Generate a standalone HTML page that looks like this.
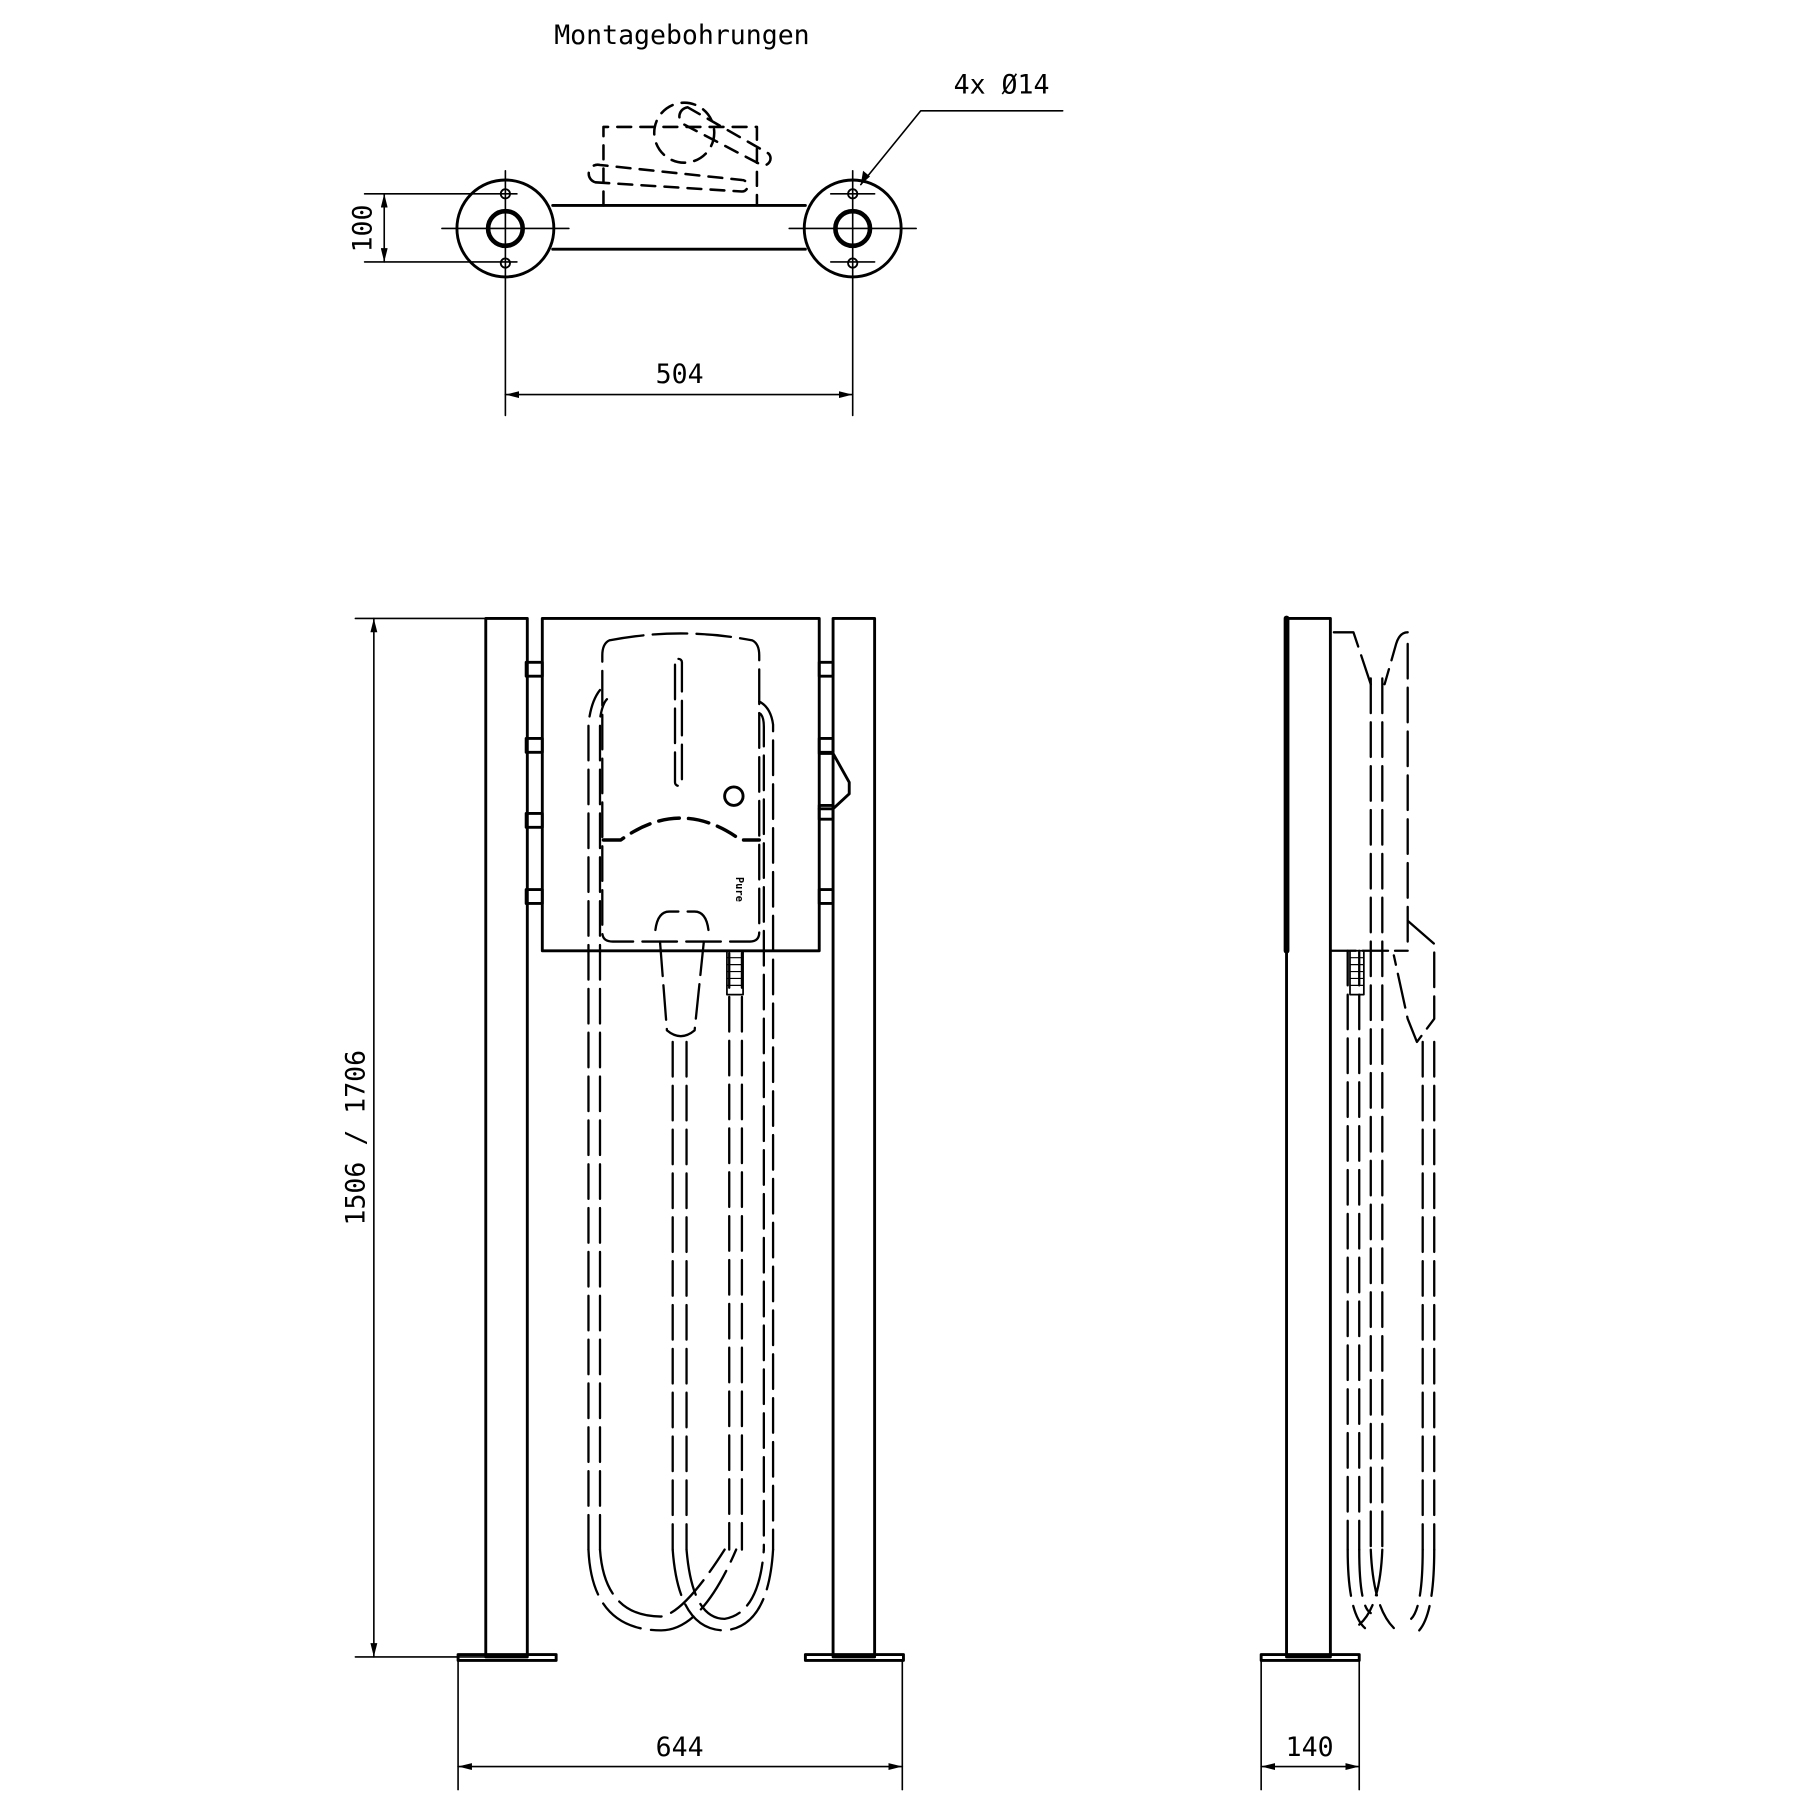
<!DOCTYPE html>
<html><head><meta charset="utf-8"><style>html,body{margin:0;padding:0;background:#fff}svg{display:block}</style></head>
<body>
<svg width="1800" height="1800" viewBox="0 0 1560 1560" xmlns="http://www.w3.org/2000/svg" font-family="'DejaVu Sans Mono','Liberation Mono',monospace" fill="none" stroke="#000" stroke-linecap="round" stroke-linejoin="round">
<defs>
<marker id="a" viewBox="0 0 12 6" refX="12" refY="3" markerWidth="12" markerHeight="6" orient="auto-start-reverse" markerUnits="userSpaceOnUse"><path d="M0,0 L12,3 L0,6z" fill="#000" stroke="none"/></marker>
</defs>
<g transform="translate(-2,-2)">
<!-- TOP VIEW -->
<text x="593" y="40" font-size="23" fill="#000" stroke="none" text-anchor="middle">Montagebohrungen</text>
<g stroke-width="1.4">
<line x1="385" y1="200" x2="495" y2="200"/><line x1="686" y1="200" x2="796" y2="200"/>
<line x1="440" y1="150" x2="440" y2="362"/><line x1="741" y1="150" x2="741" y2="362"/>
<line x1="318" y1="170" x2="450" y2="170"/><line x1="318" y1="229" x2="450" y2="229"/>
<line x1="722" y1="170" x2="760" y2="170"/><line x1="722" y1="229" x2="760" y2="229"/>
<line x1="335" y1="170" x2="335" y2="229" marker-start="url(#a)" marker-end="url(#a)"/>
<line x1="440" y1="344" x2="741" y2="344" marker-start="url(#a)" marker-end="url(#a)"/>
<polyline points="923,98 800,98 748,162"/>
</g>
<path d="M748,162 l2,-12 l6,5z" fill="#000" stroke="none"/>
<text x="316" y="200" font-size="23" fill="#000" stroke="none" text-anchor="middle" transform="rotate(-90 316 200)" dy="8">100</text>
<text x="591" y="334" font-size="23" fill="#000" stroke="none" text-anchor="middle">504</text>
<text x="870" y="83" font-size="23" fill="#000" stroke="none" text-anchor="middle">4x Ø14</text>
<g stroke-width="2.5">
<circle cx="440" cy="200" r="42"/><circle cx="741" cy="200" r="42"/>
<line x1="481" y1="180" x2="700" y2="180"/><line x1="481" y1="218" x2="700" y2="218"/>
</g>
<g stroke-width="4"><circle cx="440" cy="200" r="15"/><circle cx="741" cy="200" r="15"/></g>
<g stroke-width="1.6"><circle cx="440" cy="170" r="4"/><circle cx="440" cy="230" r="4"/><circle cx="741" cy="170" r="4"/><circle cx="741" cy="230" r="4"/></g>
<g stroke-width="2.2" stroke-dasharray="12,8">
<polyline points="525,180 525,112 658,112 658,180"/>
<path d="M518,160 L645,168 a5,5 0 0 0 0,-10 L522,145 a5,5 0 0 0 -4,15"/>
<path d="M598,95 L668,135 a6,6 0 0 1 -6,10 L595,110 a8,8 0 0 1 3,-15"/>
<circle cx="595" cy="117" r="26"/>
</g>
<!-- FRONT VIEW -->
<g stroke-width="1.4">
<line x1="310" y1="538" x2="423" y2="538"/><line x1="310" y1="1438" x2="423" y2="1438"/>
<line x1="326" y1="538" x2="326" y2="1438" marker-start="url(#a)" marker-end="url(#a)"/>
<line x1="399" y1="1441" x2="399" y2="1553"/><line x1="784" y1="1441" x2="784" y2="1553"/>
<line x1="399" y1="1533" x2="784" y2="1533" marker-start="url(#a)" marker-end="url(#a)"/>
<line x1="1095" y1="1441" x2="1095" y2="1553"/><line x1="1180" y1="1441" x2="1180" y2="1553"/>
<line x1="1095" y1="1533" x2="1180" y2="1533" marker-start="url(#a)" marker-end="url(#a)"/>
</g>
<text x="318" y="988" font-size="23" fill="#000" stroke="none" text-anchor="middle" transform="rotate(-90 318 988)">1506 / 1706</text>
<text x="591" y="1524" font-size="23" fill="#000" stroke="none" text-anchor="middle">644</text>
<text x="1137" y="1524" font-size="23" fill="#000" stroke="none" text-anchor="middle">140</text>
<g stroke-width="2.5">
<rect x="423" y="538" width="36" height="900"/><rect x="724" y="538" width="36" height="900"/>
<rect x="399" y="1436" width="85" height="5"/><rect x="700" y="1436" width="85" height="5"/>
<rect x="472" y="538" width="240" height="288"/>
<rect x="458" y="576" width="14" height="12"/><rect x="458" y="642" width="14" height="12"/><rect x="458" y="707" width="14" height="12"/><rect x="458" y="773" width="14" height="12"/>
<rect x="712" y="576" width="12" height="12"/><rect x="712" y="642" width="12" height="12"/><rect x="712" y="700" width="12" height="12"/><rect x="712" y="773" width="12" height="12"/>
<polyline points="712,655 724,655 738,680 738,690 724,703 712,703"/>
<circle cx="638" cy="692" r="8"/>
<rect x="1117" y="538" width="38" height="900"/>
<rect x="1095" y="1436" width="85" height="5"/>
</g>
<line x1="1117" y1="538" x2="1117" y2="826" stroke-width="5"/>
<g stroke-width="2" stroke-dasharray="30,8">
<path d="M530,557 Q592,545 654,557 Q660,560 660,570 L660,810 Q660,818 652,818 L533,818 Q524,818 524,810 L524,570 Q524,560 530,557"/>
<rect x="587" y="573" width="6" height="110" rx="3"/>
<path d="M574,818 L580,895 Q592,905 604,895 L612,818"/>
<path d="M570,808 Q572,792 582,792 L604,792 Q614,792 616,808"/>
<path d="M512,1345 L512,630 Q514,610 522,600"/>
<path d="M522,1345 L522,625 Q524,612 528,608"/>
<path d="M660,610 Q670,615 672,630 L672,1345"/>
<path d="M660,620 Q664,622 664,632 L664,1345"/>
<path d="M585,905 L585,1345"/><path d="M597,905 L597,1345"/>
<path d="M634,828 L634,1345"/><path d="M645,828 L645,1345"/>
<path d="M1158,550 L1175,550 L1190,595"/><path d="M1222,550 Q1215,550 1212,560 L1202,595"/>
<path d="M1222,560 L1222,825"/>
<path d="M1190,590 L1190,1345"/><path d="M1200,590 L1200,1345"/>
<path d="M1170,826 L1170,1345"/><path d="M1180,826 L1180,1345"/>
<path d="M1222,800 L1245,820 L1245,885 L1230,905 L1222,885 L1210,830"/>
<path d="M1235,905 L1235,1345"/><path d="M1245,905 L1245,1345"/>
</g>
<line x1="1155" y1="826" x2="1222" y2="826" stroke-width="2" stroke-dasharray="22,6"/>
<path d="M525,730 L540,730 Q592,692 644,730 L660,730" stroke-width="3" stroke-dasharray="18,8"/>
<rect x="632" y="826" width="14" height="38" stroke-width="1.5"/>
<g stroke-width="1" stroke="#000"><path d="M632,832h14M632,838h14M632,844h14M632,850h14M632,856h14"/></g>
<rect x="1172" y="826" width="12" height="38" stroke-width="1.5"/>
<g stroke-width="1"><path d="M1172,832h12M1172,838h12M1172,844h12M1172,850h12M1172,856h12"/></g>
<text x="640" y="762" font-size="9" fill="#000" stroke="none" font-weight="bold" transform="rotate(90 640 762)">Pure</text>
<!-- loops -->
<g stroke-width="2" stroke-dasharray="40,9">
<path d="M512,1345 Q515,1415 575,1415 Q610,1415 640,1345"/>
<path d="M522,1345 Q526,1403 575,1403 Q595,1400 630,1345"/>
<path d="M585,1345 Q590,1415 630,1415 Q668,1412 672,1345"/>
<path d="M597,1345 Q602,1405 630,1405 Q660,1400 664,1345"/>
<path d="M1170,1345 Q1170,1400 1185,1413"/><path d="M1180,1345 Q1180,1395 1190,1400"/>
<path d="M1190,1345 Q1192,1395 1210,1413"/><path d="M1200,1345 Q1198,1395 1180,1410"/>
<path d="M1235,1345 Q1235,1395 1225,1405"/><path d="M1245,1345 Q1245,1400 1232,1415"/>
</g>
</g>
</svg>
</body></html>
